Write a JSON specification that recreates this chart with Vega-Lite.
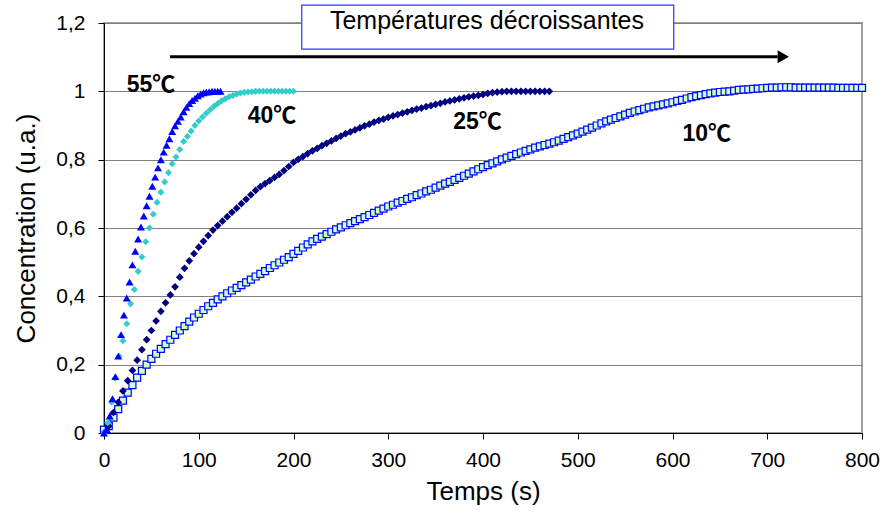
{
  "$schema": "https://vega.github.io/schema/vega-lite/v6.json",
  "width": 758,
  "height": 410,
  "autosize": {"type": "none"},
  "padding": {"left": 104, "top": 23, "right": 20, "bottom": 86},
  "background": "white",
  "config": {
    "view": {"stroke": "#a0a0a0", "strokeWidth": 2},
    "font": "Liberation Sans"
  },
  "datasets": {
    "s55": [{"t":0,"c":0.0},{"t":3,"c":0.01},{"t":6,"c":0.05},{"t":9,"c":0.1},{"t":12,"c":0.165},{"t":15,"c":0.225},{"t":18,"c":0.288},{"t":21,"c":0.345},{"t":24,"c":0.395},{"t":27,"c":0.442},{"t":30,"c":0.492},{"t":33,"c":0.532},{"t":36,"c":0.568},{"t":39,"c":0.603},{"t":42,"c":0.635},{"t":45,"c":0.665},{"t":48,"c":0.693},{"t":51,"c":0.722},{"t":54,"c":0.749},{"t":57,"c":0.776},{"t":60,"c":0.8},{"t":63,"c":0.822},{"t":66,"c":0.842},{"t":69,"c":0.861},{"t":72,"c":0.882},{"t":75,"c":0.899},{"t":78,"c":0.912},{"t":81,"c":0.925},{"t":84,"c":0.94},{"t":87,"c":0.953},{"t":90,"c":0.964},{"t":93,"c":0.973},{"t":96,"c":0.98},{"t":99,"c":0.987},{"t":102,"c":0.992},{"t":105,"c":0.996},{"t":108,"c":0.998},{"t":111,"c":0.999},{"t":114,"c":1.0},{"t":117,"c":1.0},{"t":120,"c":1.0},{"t":123,"c":1.0}],
    "s40": [{"t":0,"c":0.0},{"t":4,"c":0.03},{"t":8,"c":0.09},{"t":12,"c":0.16},{"t":16,"c":0.225},{"t":20,"c":0.27},{"t":24,"c":0.32},{"t":28,"c":0.378},{"t":32,"c":0.42},{"t":36,"c":0.473},{"t":40,"c":0.515},{"t":44,"c":0.56},{"t":48,"c":0.6},{"t":52,"c":0.64},{"t":56,"c":0.675},{"t":60,"c":0.705},{"t":64,"c":0.735},{"t":68,"c":0.762},{"t":72,"c":0.788},{"t":76,"c":0.808},{"t":80,"c":0.83},{"t":84,"c":0.853},{"t":88,"c":0.868},{"t":92,"c":0.884},{"t":96,"c":0.9},{"t":100,"c":0.913},{"t":104,"c":0.925},{"t":108,"c":0.936},{"t":112,"c":0.946},{"t":116,"c":0.956},{"t":120,"c":0.964},{"t":124,"c":0.972},{"t":128,"c":0.978},{"t":132,"c":0.984},{"t":136,"c":0.988},{"t":140,"c":0.992},{"t":144,"c":0.995},{"t":148,"c":0.997},{"t":152,"c":0.998},{"t":156,"c":0.999},{"t":160,"c":1.0},{"t":164,"c":1.0},{"t":168,"c":1.0},{"t":172,"c":1.0},{"t":176,"c":1.0},{"t":180,"c":1.0},{"t":184,"c":1.0},{"t":188,"c":1.0},{"t":192,"c":1.0},{"t":196,"c":1.0},{"t":200,"c":1.0}],
    "s25": [{"t":0,"c":0.0},{"t":5,"c":0.02},{"t":10,"c":0.06},{"t":15,"c":0.09},{"t":20,"c":0.123},{"t":25,"c":0.153},{"t":30,"c":0.183},{"t":35,"c":0.213},{"t":40,"c":0.244},{"t":45,"c":0.273},{"t":50,"c":0.3},{"t":55,"c":0.328},{"t":60,"c":0.356},{"t":65,"c":0.381},{"t":70,"c":0.404},{"t":75,"c":0.428},{"t":80,"c":0.456},{"t":85,"c":0.482},{"t":90,"c":0.504},{"t":95,"c":0.525},{"t":100,"c":0.544},{"t":105,"c":0.561},{"t":110,"c":0.578},{"t":115,"c":0.594},{"t":120,"c":0.607},{"t":125,"c":0.62},{"t":130,"c":0.633},{"t":135,"c":0.646},{"t":140,"c":0.658},{"t":145,"c":0.671},{"t":150,"c":0.684},{"t":155,"c":0.697},{"t":160,"c":0.71},{"t":165,"c":0.721},{"t":170,"c":0.73},{"t":175,"c":0.739},{"t":180,"c":0.748},{"t":185,"c":0.757},{"t":190,"c":0.768},{"t":195,"c":0.78},{"t":200,"c":0.792},{"t":205,"c":0.801},{"t":210,"c":0.809},{"t":215,"c":0.818},{"t":220,"c":0.826},{"t":225,"c":0.833},{"t":230,"c":0.841},{"t":235,"c":0.848},{"t":240,"c":0.855},{"t":245,"c":0.862},{"t":250,"c":0.869},{"t":255,"c":0.876},{"t":260,"c":0.881},{"t":265,"c":0.887},{"t":270,"c":0.893},{"t":275,"c":0.899},{"t":280,"c":0.904},{"t":285,"c":0.91},{"t":290,"c":0.915},{"t":295,"c":0.919},{"t":300,"c":0.924},{"t":305,"c":0.928},{"t":310,"c":0.932},{"t":315,"c":0.936},{"t":320,"c":0.94},{"t":325,"c":0.944},{"t":330,"c":0.948},{"t":335,"c":0.951},{"t":340,"c":0.955},{"t":345,"c":0.958},{"t":350,"c":0.962},{"t":355,"c":0.965},{"t":360,"c":0.969},{"t":365,"c":0.972},{"t":370,"c":0.975},{"t":375,"c":0.978},{"t":380,"c":0.981},{"t":385,"c":0.984},{"t":390,"c":0.986},{"t":395,"c":0.988},{"t":400,"c":0.991},{"t":405,"c":0.994},{"t":410,"c":0.996},{"t":415,"c":0.998},{"t":420,"c":0.999},{"t":425,"c":1.0},{"t":430,"c":1.0},{"t":435,"c":1.0},{"t":440,"c":1.0},{"t":445,"c":1.0},{"t":450,"c":1.0},{"t":455,"c":1.0},{"t":460,"c":1.0},{"t":465,"c":1.0},{"t":470,"c":1.0}],
    "s10": [{"t":0,"c":0.01},{"t":5,"c":0.02},{"t":10,"c":0.045},{"t":15,"c":0.07},{"t":20,"c":0.095},{"t":25,"c":0.118},{"t":30,"c":0.14},{"t":35,"c":0.162},{"t":40,"c":0.182},{"t":45,"c":0.2},{"t":50,"c":0.217},{"t":55,"c":0.232},{"t":60,"c":0.246},{"t":65,"c":0.26},{"t":70,"c":0.273},{"t":75,"c":0.287},{"t":80,"c":0.3},{"t":85,"c":0.313},{"t":90,"c":0.326},{"t":95,"c":0.338},{"t":100,"c":0.349},{"t":105,"c":0.36},{"t":110,"c":0.371},{"t":115,"c":0.381},{"t":120,"c":0.391},{"t":125,"c":0.4},{"t":130,"c":0.409},{"t":135,"c":0.417},{"t":140,"c":0.425},{"t":145,"c":0.433},{"t":150,"c":0.441},{"t":155,"c":0.449},{"t":160,"c":0.458},{"t":165,"c":0.466},{"t":170,"c":0.474},{"t":175,"c":0.483},{"t":180,"c":0.491},{"t":185,"c":0.499},{"t":190,"c":0.507},{"t":195,"c":0.515},{"t":200,"c":0.524},{"t":205,"c":0.533},{"t":210,"c":0.543},{"t":215,"c":0.552},{"t":220,"c":0.561},{"t":225,"c":0.568},{"t":230,"c":0.575},{"t":235,"c":0.582},{"t":240,"c":0.589},{"t":245,"c":0.596},{"t":250,"c":0.602},{"t":255,"c":0.608},{"t":260,"c":0.614},{"t":265,"c":0.62},{"t":270,"c":0.626},{"t":275,"c":0.632},{"t":280,"c":0.638},{"t":285,"c":0.644},{"t":290,"c":0.651},{"t":295,"c":0.657},{"t":300,"c":0.663},{"t":305,"c":0.668},{"t":310,"c":0.674},{"t":315,"c":0.679},{"t":320,"c":0.685},{"t":325,"c":0.69},{"t":330,"c":0.696},{"t":335,"c":0.701},{"t":340,"c":0.707},{"t":345,"c":0.712},{"t":350,"c":0.718},{"t":355,"c":0.724},{"t":360,"c":0.73},{"t":365,"c":0.735},{"t":370,"c":0.741},{"t":375,"c":0.747},{"t":380,"c":0.753},{"t":385,"c":0.759},{"t":390,"c":0.766},{"t":395,"c":0.772},{"t":400,"c":0.778},{"t":405,"c":0.784},{"t":410,"c":0.789},{"t":415,"c":0.795},{"t":420,"c":0.801},{"t":425,"c":0.806},{"t":430,"c":0.811},{"t":435,"c":0.816},{"t":440,"c":0.821},{"t":445,"c":0.826},{"t":450,"c":0.83},{"t":455,"c":0.835},{"t":460,"c":0.839},{"t":465,"c":0.843},{"t":470,"c":0.847},{"t":475,"c":0.851},{"t":480,"c":0.856},{"t":485,"c":0.861},{"t":490,"c":0.866},{"t":495,"c":0.871},{"t":500,"c":0.876},{"t":505,"c":0.882},{"t":510,"c":0.888},{"t":515,"c":0.894},{"t":520,"c":0.9},{"t":525,"c":0.906},{"t":530,"c":0.912},{"t":535,"c":0.917},{"t":540,"c":0.922},{"t":545,"c":0.927},{"t":550,"c":0.932},{"t":555,"c":0.937},{"t":560,"c":0.941},{"t":565,"c":0.945},{"t":570,"c":0.949},{"t":575,"c":0.953},{"t":580,"c":0.956},{"t":585,"c":0.959},{"t":590,"c":0.962},{"t":595,"c":0.965},{"t":600,"c":0.968},{"t":605,"c":0.972},{"t":610,"c":0.975},{"t":615,"c":0.979},{"t":620,"c":0.983},{"t":625,"c":0.986},{"t":630,"c":0.989},{"t":635,"c":0.992},{"t":640,"c":0.994},{"t":645,"c":0.996},{"t":650,"c":0.998},{"t":655,"c":0.999},{"t":660,"c":1.0},{"t":665,"c":1.002},{"t":670,"c":1.004},{"t":675,"c":1.005},{"t":680,"c":1.006},{"t":685,"c":1.007},{"t":690,"c":1.008},{"t":695,"c":1.009},{"t":700,"c":1.01},{"t":705,"c":1.011},{"t":710,"c":1.011},{"t":715,"c":1.012},{"t":720,"c":1.012},{"t":725,"c":1.012},{"t":730,"c":1.011},{"t":735,"c":1.011},{"t":740,"c":1.011},{"t":745,"c":1.011},{"t":750,"c":1.011},{"t":755,"c":1.011},{"t":760,"c":1.011},{"t":765,"c":1.011},{"t":770,"c":1.011},{"t":775,"c":1.01},{"t":780,"c":1.01},{"t":785,"c":1.01},{"t":790,"c":1.01},{"t":795,"c":1.01},{"t":800,"c":1.01}],
    "labels": [{"t":49.6,"c":1.018,"txt":"55℃"},{"t":177.3,"c":0.928,"txt":"40℃"},{"t":394.2,"c":0.909,"txt":"25℃"},{"t":636.1,"c":0.875,"txt":"10℃"}],
    "box": [{"t":208.7,"t2":601.3,"c":1.1238,"c2":1.2526,"txt":"Températures décroissantes","tt":404.2,"tc":1.206}],
    "arrow": [{"t":69.7,"t2":711,"c":1.101}],
    "head": [{"t":716.9,"c":1.101}]
  },
  "encoding": {
    "x": {
      "field": "t", "type": "quantitative",
      "scale": {"domain": [0, 800], "nice": false, "zero": false},
      "axis": {
        "title": "Temps (s)", "values": [0,100,200,300,400,500,600,700,800],
        "grid": false, "domainColor": "black", "domainWidth": 1, "tickColor": "black", "tickSize": 6,
        "labelFontSize": 21, "labelColor": "black", "labelPadding": 10, "labelFlush": false, "labelOverlap": false,
        "labelFont": "Liberation Sans", "titleFont": "Liberation Sans",
        "titleFontSize": 26, "titleFontWeight": "normal", "titleColor": "black", "titlePadding": 8
      }
    },
    "y": {
      "field": "c", "type": "quantitative",
      "scale": {"domain": [0, 1.2], "nice": false, "zero": false},
      "axis": {
        "title": "Concentration (u.a.)", "values": [0,0.2,0.4,0.6,0.8,1,1.2],
        "labelExpr": "replace(format(datum.value, '.1~f'), '.', ',')",
        "grid": true, "gridColor": "#808080", "gridWidth": 1, "gridOpacity": 1,
        "domainColor": "black", "domainWidth": 1, "tickColor": "black", "tickSize": 6,
        "labelFontSize": 21, "labelColor": "black", "labelPadding": 13, "labelOverlap": false,
        "labelFont": "Liberation Sans", "titleFont": "Liberation Sans",
        "titleFontSize": 26, "titleFontWeight": "normal", "titleColor": "black", "titlePadding": 16
      }
    }
  },
  "layer": [
    {"data": {"name": "s10"}, "mark": {"type": "point", "shape": "square", "filled": true, "fill": "#ccffcc", "stroke": "#0000ff", "strokeWidth": 1.2, "size": 49, "opacity": 1}},
    {"data": {"name": "s25"}, "mark": {"type": "point", "shape": "diamond", "filled": true, "color": "#000080", "size": 60, "opacity": 1}},
    {"data": {"name": "s40"}, "mark": {"type": "point", "shape": "diamond", "filled": true, "color": "#33cccc", "size": 50, "opacity": 1}},
    {"data": {"name": "s55"}, "mark": {"type": "point", "shape": "triangle-up", "filled": true, "color": "#0000ff", "size": 64, "opacity": 1}},
    {"data": {"name": "labels"}, "mark": {"type": "text", "font": "Liberation Sans, Noto Sans CJK SC", "fontSize": 23, "fontWeight": "bold", "align": "center", "baseline": "middle", "color": "black"}, "encoding": {"text": {"field": "txt"}}},
    {"data": {"name": "arrow"}, "mark": {"type": "rule", "color": "black", "strokeWidth": 3}, "encoding": {"x2": {"field": "t2"}}},
    {"data": {"name": "head"}, "mark": {"type": "point", "shape": "triangle-right", "filled": true, "color": "black", "size": 169, "opacity": 1}},
    {"data": {"name": "box"}, "mark": {"type": "rect", "fill": "white", "stroke": "#3333ff", "strokeWidth": 1.2}, "encoding": {"x2": {"field": "t2"}, "y2": {"field": "c2"}}},
    {"data": {"name": "box"}, "mark": {"type": "text", "fontSize": 25, "align": "center", "baseline": "middle", "color": "black", "font": "Liberation Sans"}, "encoding": {"x": {"field": "tt", "type": "quantitative"}, "y": {"field": "tc", "type": "quantitative"}, "text": {"field": "txt"}}}
  ]
}
